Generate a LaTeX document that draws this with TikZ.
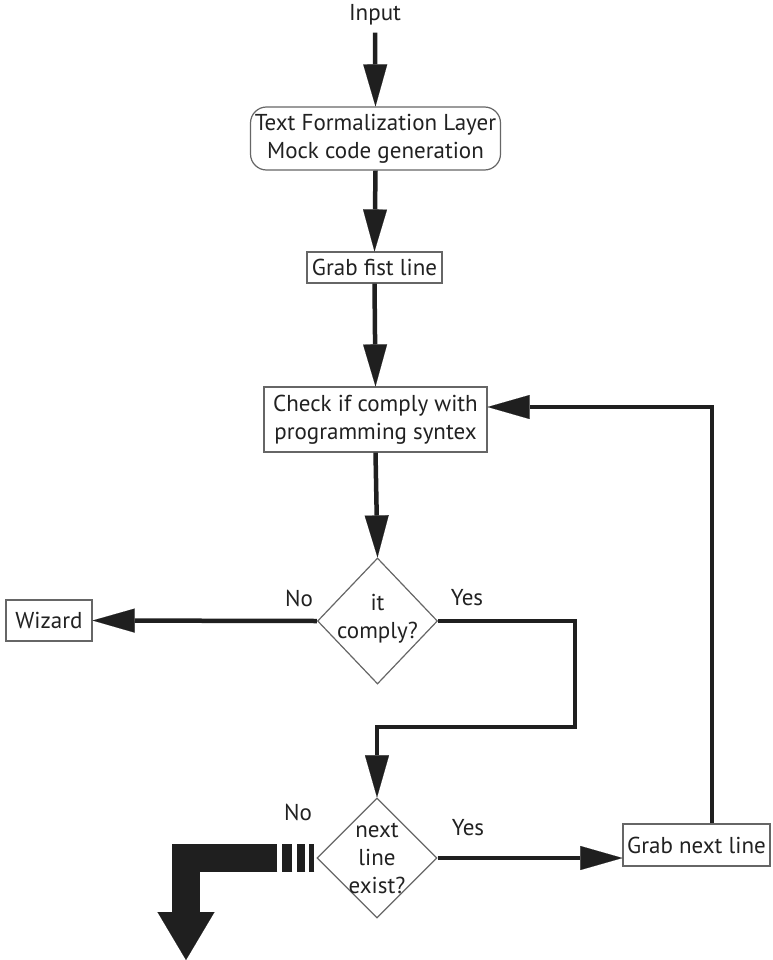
\documentclass[tikz,border=0pt]{standalone}
\usepackage{fontspec}
\setmainfont{PT Sans}
\usetikzlibrary{arrows.meta,shapes.geometric,calc}

\begin{document}
\begin{tikzpicture}[x=1pt,y=-1pt,
  every node/.style={font=\fontsize{23}{28}\selectfont, text=black!87, align=center, inner sep=0pt},
  box/.style={draw=black!60, line width=1.2pt, fill=white},
  decision/.style={diamond, draw=black!60, line width=1.2pt, minimum width=120pt, minimum height=126pt},
  flow/.style={draw=black!88, line width=4.5pt, line join=miter, -{Triangle[length=42pt,width=24pt,line width=0.1pt]}},
  bigflow/.style={draw=black!88, line width=28pt, line join=miter,
    dash pattern=on 0pt off 2pt on 5pt off 4pt on 8pt off 5pt on 10pt off 5pt on 2000pt off 1pt,
    -{Triangle[length=48pt,width=57pt,line width=0.1pt]}},
]
\useasboundingbox (0,0) rectangle (772,960);

% process steps
\node (in) at (375,15) {Input};
\node[box, rounded corners=16pt, minimum width=250pt, minimum height=63pt] (tf) at (375.5,138.5)
  {Text Formalization Layer\\Mock code generation};
\node[box, minimum width=135pt, minimum height=31pt] (gfl) at (374.5,267.5) {Grab fist line};
\node[box, minimum width=223pt, minimum height=65pt] (chk) at (375.5,419.5)
  {Check if comply with\\programming syntex};
\node[box, minimum width=86pt, minimum height=41pt] (wiz) at (49,620.5) {Wizard};
\node[box, minimum width=147pt, minimum height=42pt] (gnl) at (696.5,845) {Grab next line};

% decisions
\node[decision] (d1) at (377.5,621) {};
\node (d1t) at (377.5,619) {it\\comply?};
\node[decision, minimum height=120pt] (d2) at (377,858) {};
\node (d2t) at (377,858) {next\\line\\exist?};

% branch labels
\node (d1no)  at (299,598) {No};
\node (d1yes) at (467,598) {Yes};
\node (d2no)  at (298,812) {No};
\node (d2yes) at (468,828) {Yes};

% routing points
\coordinate (yr) at (575,727);
\coordinate (rt) at (712,407);
\coordinate (sink) at (186,960);

% connectors
\draw[flow, shorten <=7pt] (in.south) -- (tf.north);
\draw[flow] (tf.south) -- (gfl.north);
\draw[flow] (gfl.south) -- (chk.north);
\draw[flow] (chk.south) -- (d1.north);
\draw[flow] (d1.west) -- (wiz.east);
\draw[flow] (d1.east) -| (yr) -| (d2.north);
\draw[flow] (d2.east) -- (d2.east -| gnl.west);
\draw[flow] (rt |- gnl.north) -- (rt) -- (rt -| chk.east);
\draw[bigflow] (d2.west) -| (sink);
\end{tikzpicture}
\end{document}
